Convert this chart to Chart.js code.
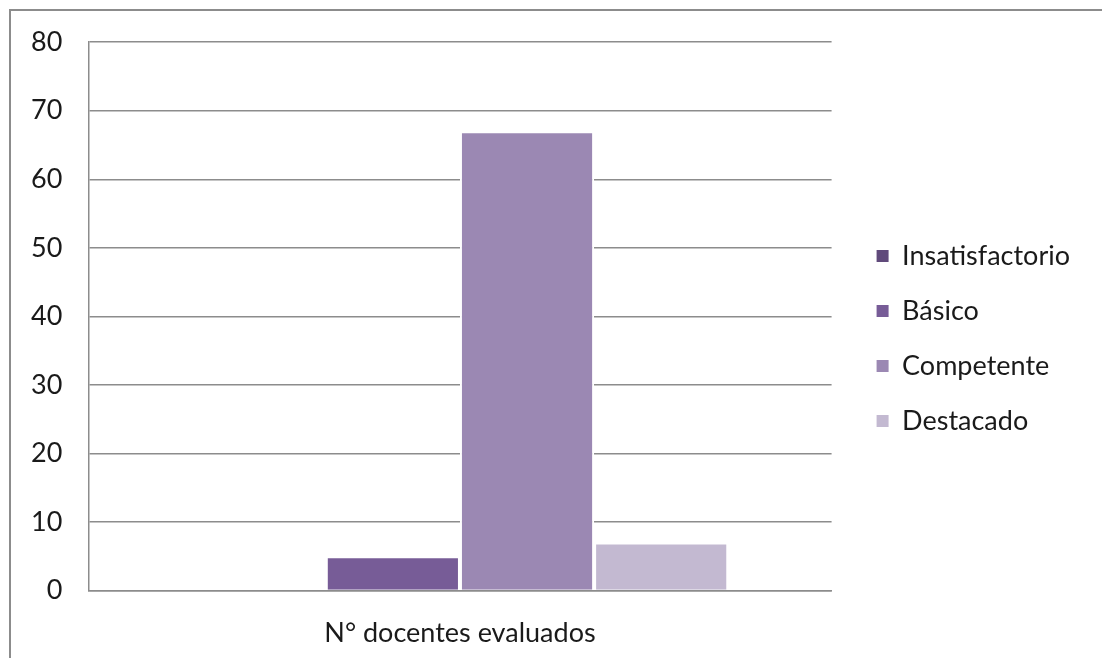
<!DOCTYPE html>
<html>
<head>
<meta charset="utf-8">
<script src="https://cdn.jsdelivr.net/npm/chart.js@4"></script>
<style>
    body { margin: 0; background: #ffffff; }
    #frame {
        position: absolute; left: 9px; top: 9px; width: 1100px; height: 660px;
        border-left: 2px solid #8c8c8c; border-top: 2px solid #8c8c8c;
    }
    #chart { position: absolute; left: 0; top: 0; }
</style>
</head>
<body>
<div id="frame"></div>
<canvas id="chart" width="1102" height="658"></canvas>
<script>
// Chart data
const categories = ['N° docentes evaluados'];
const seriesNames = ['Insatisfactorio', 'Básico', 'Competente', 'Destacado'];
const insatisfactorio = [0];
const basico = [5];
const competente = [67];
const destacado = [7];
const seriesColors = ['#604a7b', '#775c97', '#9b88b3', '#c3b9d1'];
const yTicks = [0, 10, 20, 30, 40, 50, 60, 70, 80];

const seriesValues = [insatisfactorio, basico, competente, destacado];
const font = { family: 'Lato', size: 27 };

const ctx = document.getElementById('chart').getContext('2d');

// push the legend a bit further from the plot, like the original
const legendShift = {
    id: 'legendShift',
    afterLayout(chart) {
        chart.legend.left += 17;
        chart.legend.right += 17;
        chart.legend.top -= 18;
        chart.legend.bottom -= 18;
    }
};

new Chart(ctx, {
    type: 'bar',
    data: {
        labels: categories,
        datasets: seriesNames.map((name, i) => ({
            label: name,
            data: seriesValues[i],
            backgroundColor: seriesColors[i],
            borderColor: '#ffffff',
            borderWidth: 2,
            categoryPercentage: 0.722,
            barPercentage: 1
        }))
    },
    options: {
        responsive: false,
        animation: false,
        layout: { padding: { left: 5, top: 38, right: 39, bottom: -17 } },
        scales: {
            x: {
                grid: { display: false, drawTicks: false },
                border: { color: '#8c8c8c', width: 1.5 },
                ticks: { color: '#1a1a1a', font: font, padding: 26 }
            },
            y: {
                min: yTicks[0],
                max: yTicks[yTicks.length - 1],
                afterBuildTicks: (axis) => { axis.ticks = yTicks.map(v => ({ value: v })); },
                grid: { color: '#8c8c8c', lineWidth: 1.5, drawTicks: false },
                border: { color: '#8c8c8c', width: 1.5 },
                ticks: { color: '#1a1a1a', font: font, padding: 26 }
            }
        },
        plugins: {
            legend: {
                position: 'right',
                labels: {
                    color: '#1a1a1a',
                    font: font,
                    boxWidth: 12,
                    boxHeight: 12,
                    padding: 28,
                    generateLabels: (chart) => {
                        const items = Chart.defaults.plugins.legend.labels.generateLabels(chart);
                        items.forEach(it => { it.lineWidth = 0; });
                        return items;
                    }
                }
            },
            tooltip: { enabled: false }
        }
    },
    plugins: [legendShift]
});
</script>
</body>
</html>
